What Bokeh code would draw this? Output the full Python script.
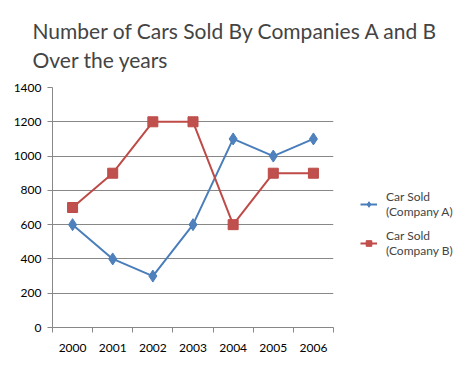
from bokeh.plotting import figure
from bokeh.models import FixedTicker, Legend, LegendItem, Title, Range1d
from bokeh.embed import file_html
from bokeh.resources import INLINE

years = ["2000", "2001", "2002", "2003", "2004", "2005", "2006"]
company_a = [600, 400, 300, 600, 1100, 1000, 1100]
company_b = [700, 900, 1200, 1200, 600, 900, 900]
y_ticks = [0, 200, 400, 600, 800, 1000, 1200, 1400]
title_lines = ["Number of Cars Sold By Companies A and B", "Over the years"]

FONT = "Lato"
xs = [i + 0.5 for i in range(len(years))]

p = figure(frame_width=281, frame_height=240, output_backend="svg", toolbar_location=None,
           x_range=Range1d(0, len(years)), y_range=Range1d(0, 1400),
           min_border_left=52, min_border_right=0, min_border_top=85, min_border_bottom=34)
p.outline_line_color = None
p.background_fill_color = "white"
p.border_fill_color = "white"

gray = "#878787"
# x axis
p.xaxis.ticker = FixedTicker(ticks=xs, minor_ticks=list(range(len(years) + 1)))
p.xaxis.major_label_overrides = {x: y for x, y in zip(xs, years)}
p.xaxis.major_tick_out = 0
p.xaxis.major_tick_in = 0
p.xaxis.minor_tick_out = 5
p.xaxis.minor_tick_in = 0
p.xaxis.minor_tick_line_color = gray
p.xaxis.axis_line_color = gray
p.xaxis.major_label_standoff = 11
p.xaxis.major_label_text_font = FONT
p.xaxis.major_label_text_font_size = "12px"
p.xaxis.major_label_text_color = "#000000"
p.xgrid.grid_line_color = None

# y axis
p.yaxis.ticker = FixedTicker(ticks=y_ticks, minor_ticks=[])
p.yaxis.major_tick_out = 5
p.yaxis.major_tick_in = 0
p.yaxis.major_tick_line_color = gray
p.yaxis.axis_line_color = gray
p.yaxis.major_label_standoff = 6
p.yaxis.major_label_text_font = FONT
p.yaxis.major_label_text_font_size = "12px"
p.yaxis.major_label_text_color = "#000000"
p.ygrid.grid_line_color = gray
p.ygrid.grid_line_width = 1

blue_line, blue_fill = "#4A7EBB", "#4F81BD"
red_line, red_fill = "#BE4B48", "#C0504D"

la = p.line(xs, company_a, line_color=blue_line, line_width=2)
sa = p.scatter(xs, company_a, marker="diamond", size=12, fill_color=blue_fill, line_color=blue_line)
lb = p.line(xs, company_b, line_color=red_line, line_width=2)
sb = p.scatter(xs, company_b, marker="square", size=10, fill_color=red_fill, line_color=red_line)

legend = Legend(items=[
    LegendItem(label="Car Sold\n(Company A)", renderers=[la, sa]),
    LegendItem(label="Car Sold\n(Company B)", renderers=[lb, sb]),
], location=(27, 69), border_line_color=None, background_fill_alpha=0,
    label_text_font=FONT, label_text_font_size="12px", label_text_line_height=1.2,
    glyph_width=17, glyph_height=14, spacing=9, label_standoff=9, margin=0, padding=0)
p.add_layout(legend, "right")

p.add_layout(Title(text="\n".join(title_lines), text_font=FONT, text_font_size="21px",
                   text_line_height=1.17, text_font_style="normal", align="left",
                   offset=-20, standoff=31), "above")

open("out.html", "w").write(file_html(p, INLINE))
